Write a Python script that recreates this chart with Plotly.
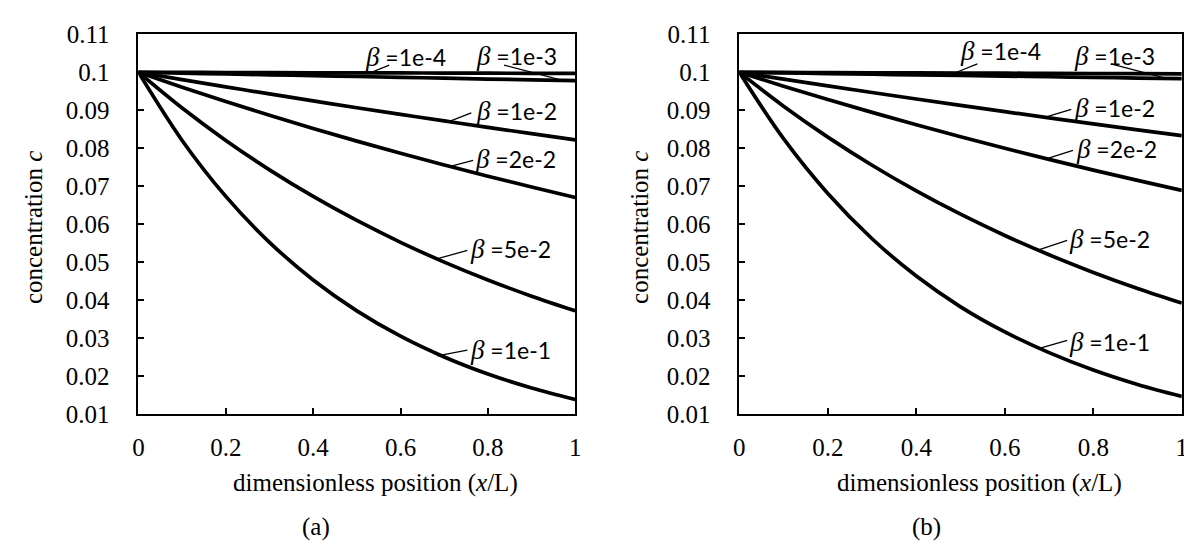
import plotly.graph_objects as go

# ---------------- data ----------------
x_pos = [0, 0.1, 0.2, 0.3, 0.4, 0.5, 0.6, 0.7, 0.8, 0.9, 1.0]

beta_names = ["1e-4", "1e-3", "1e-2", "2e-2", "5e-2", "1e-1"]

# panel (a)
a_1e4 = [0.1, 0.09997, 0.09994, 0.09991, 0.09988, 0.09985, 0.09982, 0.09979, 0.09976, 0.09973, 0.0997]
a_1e3 = [0.1, 0.09978, 0.09955, 0.09933, 0.0991, 0.09888, 0.09866, 0.09844, 0.09822, 0.098, 0.09778]
a_1e2 = [0.1, 0.09806, 0.09616, 0.09429, 0.09246, 0.09066, 0.0889, 0.08718, 0.08549, 0.08383, 0.0822]
a_2e2 = [0.1, 0.09608, 0.09231, 0.08869, 0.08521, 0.08187, 0.07866, 0.07558, 0.07261, 0.06977, 0.06703]
a_5e2 = [0.1, 0.09057, 0.08204, 0.0743, 0.0673, 0.06096, 0.05521, 0.05, 0.04529, 0.04102, 0.03716]
a_1e1 = [0.1, 0.08204, 0.0673, 0.05521, 0.04529, 0.03716, 0.03048, 0.02501, 0.02052, 0.01683, 0.01381]

# panel (b)
b_1e4 = [0.1, 0.09996, 0.09992, 0.09988, 0.09984, 0.0998, 0.09976, 0.09972, 0.09968, 0.09964, 0.0996]
b_1e3 = [0.1, 0.09983, 0.09966, 0.09949, 0.09932, 0.09916, 0.09899, 0.09882, 0.09865, 0.09848, 0.09831]
b_1e2 = [0.1, 0.09819, 0.09641, 0.09467, 0.09295, 0.09127, 0.08962, 0.088, 0.0864, 0.08484, 0.0833]
b_2e2 = [0.1, 0.09634, 0.09282, 0.08943, 0.08616, 0.08301, 0.07997, 0.07705, 0.07423, 0.07152, 0.0689]
b_5e2 = [0.1, 0.09106, 0.08292, 0.07551, 0.06876, 0.06261, 0.05701, 0.05192, 0.04728, 0.04305, 0.0392]
b_1e1 = [0.1, 0.0825, 0.06806, 0.05615, 0.04632, 0.03821, 0.0316, 0.02615, 0.02155, 0.01775, 0.0146]

series_a = [a_1e4, a_1e3, a_1e2, a_2e2, a_5e2, a_1e1]
series_b = [b_1e4, b_1e3, b_1e2, b_2e2, b_5e2, b_1e1]

x_tickvals = [0, 0.2, 0.4, 0.6, 0.8, 1]
x_ticktext = ["0", "0.2", "0.4", "0.6", "0.8", "1"]
y_tickvals = [0.01, 0.02, 0.03, 0.04, 0.05, 0.06, 0.07, 0.08, 0.09, 0.1, 0.11]
y_ticktext = ["0.01", "0.02", "0.03", "0.04", "0.05", "0.06", "0.07", "0.08", "0.09", "0.1", "0.11"]

# label anchors (text left/centre-y) and leader lines [x0, y0, x1, y1]
labels_a = [(0.513, 0.1041), (0.769, 0.1044), (0.769, 0.0898), (0.765, 0.0772), (0.754, 0.0534), (0.754, 0.0269)]
leaders_a = [(0.574, 0.1019, 0.536, 0.1001), (0.837, 0.1019, 0.962, 0.0981),
             (0.762, 0.0893, 0.706, 0.0868), (0.766, 0.0768, 0.714, 0.0752),
             (0.753, 0.0531, 0.679, 0.0507), (0.753, 0.0268, 0.684, 0.0253)]
labels_b = [(0.495, 0.1057), (0.752, 0.1044), (0.752, 0.0906), (0.757, 0.0798), (0.741, 0.0562), (0.741, 0.029)]
leaders_b = [(0.538, 0.1022, 0.491, 0.1000), (0.840, 0.1022, 0.960, 0.0985),
             (0.750, 0.0902, 0.692, 0.0882), (0.754, 0.0794, 0.699, 0.0774),
             (0.741, 0.0557, 0.678, 0.0533), (0.741, 0.0294, 0.682, 0.0274)]

# ---------------- figure ----------------
W, H = 1192, 548
SERIF = "Liberation Serif"
fig = go.Figure()

for ser, xa, ya in [(series_a, "x", "y"), (series_b, "x2", "y2")]:
    for vals in ser:
        fig.add_trace(go.Scatter(x=x_pos, y=vals, mode="lines", xaxis=xa, yaxis=ya,
                                 line=dict(color="black", width=3.7, shape="spline", smoothing=1.0),
                                 showlegend=False, hoverinfo="skip"))

def axis_common():
    return dict(showline=True, linecolor="black", linewidth=1.8, mirror=True,
                ticks="inside", ticklen=6, tickwidth=1.5, tickcolor="black",
                showgrid=False, zeroline=False,
                tickfont=dict(family=SERIF, size=25, color="black"))

xa = axis_common(); xa.update(range=[0, 1], tickvals=x_tickvals, ticktext=x_ticktext, ticklabelstandoff=10)
ya = axis_common(); ya.update(range=[0.01, 0.11], tickvals=y_tickvals, ticktext=y_ticktext, ticklabelstandoff=22)

dom_y = [1 - 413.3 / H, 1 - 14 / H]
fig.update_layout(
    width=W, height=H, margin=dict(l=0, r=0, t=0, b=0),
    paper_bgcolor="white", plot_bgcolor="white",
    font=dict(family=SERIF, size=25, color="black"),
    xaxis=dict(xa, domain=[125.7 / W, 567 / W], anchor="y"),
    yaxis=dict(ya, domain=dom_y, anchor="x"),
    xaxis2=dict(xa, domain=[732.7 / W, 1179.7 / W], anchor="y2"),
    yaxis2=dict(ya, domain=dom_y, anchor="x2"),
)

beta_span = "<span style='font-family:Liberation Serif;font-style:italic;font-size:27px'>β</span>"
for (labels, leaders, xr, yr) in [(labels_a, leaders_a, "x", "y"), (labels_b, leaders_b, "x2", "y2")]:
    for name, (lx, ly), (x0, y0, x1, y1) in zip(beta_names, labels, leaders):
        fig.add_annotation(x=lx, y=ly, xref=xr, yref=yr, xanchor="left", yanchor="middle",
                           text=beta_span + " =" + name, showarrow=False,
                           font=dict(family="Lato", size=23, color="black"))
        fig.add_shape(type="line", x0=x0, y0=y0, x1=x1, y1=y1, xref=xr, yref=yr,
                      line=dict(color="black", width=1.3))

# axis titles and panel captions
for cx in [365, 975]:
    fig.add_annotation(x=cx / W, y=1 - 486 / H, xref="paper", yref="paper", showarrow=False,
                       xanchor="center", yanchor="middle",
                       text="dimensionless position (<i>x</i>/L)",
                       font=dict(family=SERIF, size=25, color="black"))
for cx, cap in [(305, "(a)"), (922, "(b)")]:
    fig.add_annotation(x=cx / W, y=1 - 532 / H, xref="paper", yref="paper", showarrow=False,
                       xanchor="center", yanchor="middle", text=cap,
                       font=dict(family=SERIF, size=25, color="black"))
for cx in [19, 632]:
    fig.add_annotation(x=cx / W, y=1 - 217 / H, xref="paper", yref="paper", showarrow=False,
                       xanchor="center", yanchor="middle", textangle=-90,
                       text="concentration <i>c</i>",
                       font=dict(family=SERIF, size=25, color="black"))

fig.write_html("out.html")
